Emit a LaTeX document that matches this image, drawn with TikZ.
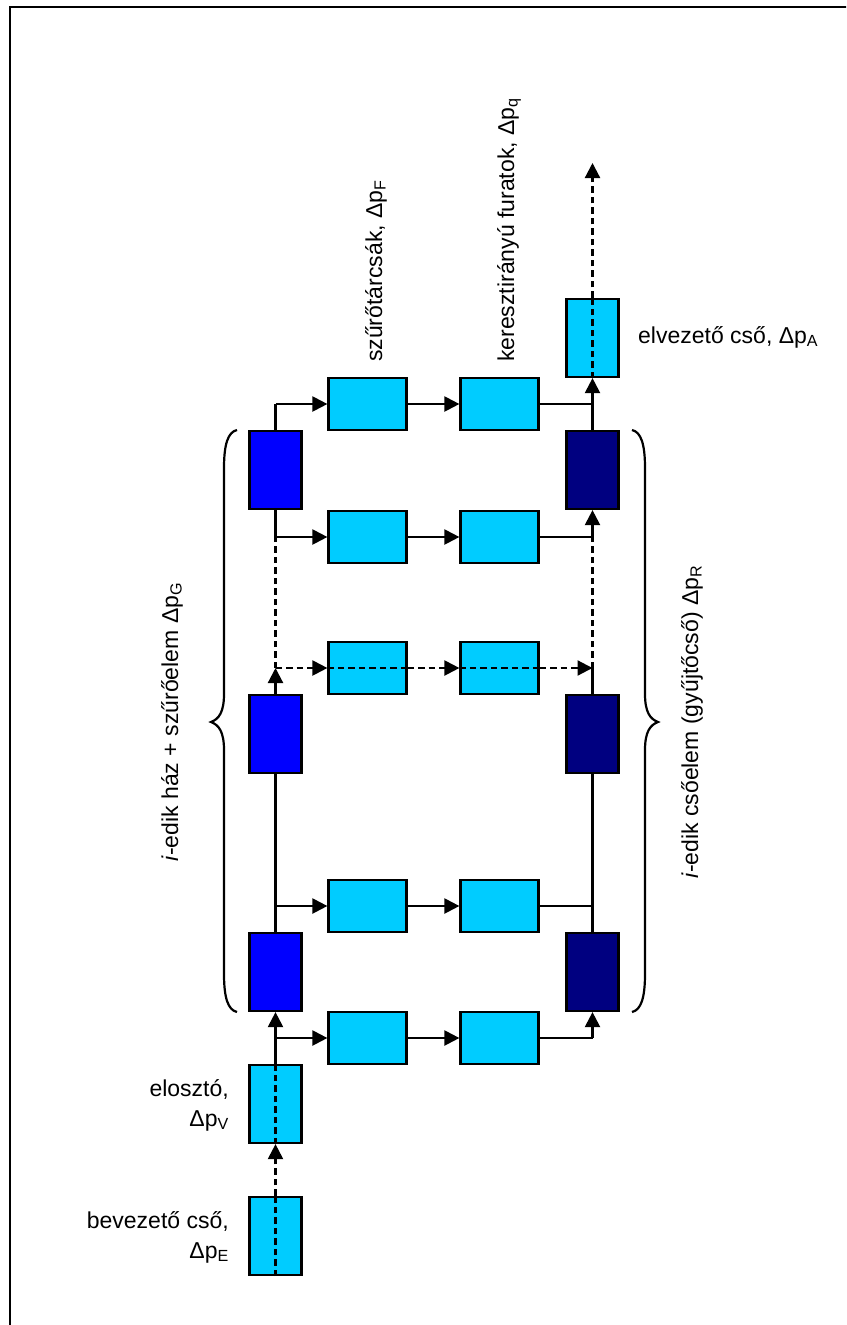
\documentclass[tikz,border=0pt]{standalone}
\usepackage{fontspec}
\setmainfont{Liberation Sans}
\usetikzlibrary{arrows.meta}
\definecolor{pipecyan}{HTML}{00CCFF}
\definecolor{housing}{HTML}{0000FF}
\definecolor{collector}{HTML}{000080}

\begin{document}
\begin{tikzpicture}[x=1pt,y=-1pt,
  font=\fontsize{23}{30}\selectfont,
  box/.style={draw=black, line width=2.2pt, inner sep=0pt},
  pipe/.style={box, fill=pipecyan, minimum width=52pt, minimum height=78pt},
  house/.style={pipe, fill=housing},
  coll/.style={pipe, fill=collector},
  disc/.style={box, fill=pipecyan, minimum width=78pt, minimum height=52pt},
  conn/.style={line width=2.2pt},
  flow/.style={conn, -{Triangle[length=15pt,width=15pt]}},
  dline/.style={conn, dash pattern=on 6.5pt off 4pt},
  dflow/.style={dline, -{Triangle[length=15pt,width=15pt]}},
  lbl/.style={inner sep=0pt},
  brace/.style={line width=2.2pt}
]
\useasboundingbox (0,0) rectangle (846,1325);

% page frame (only top and left edges fall inside the page)
\begin{scope}
  \clip (0,0) rectangle (846,1325);
  \draw[line width=2.2pt] (10,1340) -- (10,7) -- (860,7);
\end{scope}

% inlet, distributor and outlet pipes
\node[pipe] (be)  at (275.5,1236) {};
\node[pipe] (el)  at (275.5,1104) {};
\node[pipe] (out) at (592.5,338) {};

% housings with filter elements (left) and collector pipe elements (right)
\node[house] (h1) at (275.5,972) {};
\node[house] (h2) at (275.5,734) {};
\node[house] (h3) at (275.5,470) {};
\node[coll]  (r1) at (592.5,972) {};
\node[coll]  (r2) at (592.5,734) {};
\node[coll]  (r3) at (592.5,470) {};

% filter discs and cross bores, one pair per branch
\node[disc] (fA1) at (367.5,404)  {};
\node[disc] (fA2) at (499.5,404)  {};
\node[disc] (fB1) at (367.5,537)  {};
\node[disc] (fB2) at (499.5,537)  {};
\node[disc] (fM1) at (367.5,668)  {};
\node[disc] (fM2) at (499.5,668)  {};
\node[disc] (fC1) at (367.5,906)  {};
\node[disc] (fC2) at (499.5,906)  {};
\node[disc] (fD1) at (367.5,1038) {};
\node[disc] (fD2) at (499.5,1038) {};

% branch points
\coordinate (jA)  at (h3.north |- fA1);
\coordinate (jAr) at (r3.north |- fA2);
\coordinate (jB)  at (h3.south |- fB1);
\coordinate (jBr) at (r3.south |- fB2);
\coordinate (jM)  at (h2.north |- fM1);
\coordinate (jMr) at (r2.north |- fM2);
\coordinate (jC)  at (h1.north |- fC1);
\coordinate (jCr) at (r1.north |- fC2);
\coordinate (jD)  at (h1.south |- fD1);
\coordinate (jDr) at (r1.south |- fD2);
\coordinate (exit) at (592.5,163);

% inlet side
\draw[dline] (be.south) -- (be.north);
\draw[dflow] (be.north) -- (el.south);
\draw[dline] (el.south) -- (el.north);
\draw[conn]  (el.north) -- (jD);
\draw[flow]  (jD) -- (h1.south);

% bottom branch
\draw[flow] (jD) -- (fD1.west);
\draw[flow] (fD1.east) -- (fD2.west);
\draw[conn] (fD2.east) -- (jDr);
\draw[flow] (jDr) -- (r1.south);

% second branch
\draw[conn] (h1.north) -- (h2.south);
\draw[flow] (jC) -- (fC1.west);
\draw[flow] (fC1.east) -- (fC2.west);
\draw[conn] (fC2.east) -- (jCr);
\draw[conn] (r1.north) -- (r2.south);

% repeated (dashed) branch
\draw[flow]  (h2.north) -- (jM);
\draw[dflow] (jM) -- (fM1.west);
\draw[dline] (fM1.west) -- (fM1.east);
\draw[dflow] (fM1.east) -- (fM2.west);
\draw[dline] (fM2.west) -- (fM2.east);
\draw[dflow] (fM2.east) -- (jMr);
\draw[conn]  (r2.north) -- (jMr);
\draw[dline] (jM) -- (jB);
\draw[dline] (jMr) -- (jBr);

% branch below the last housing
\draw[conn] (jB) -- (h3.south);
\draw[flow] (jB) -- (fB1.west);
\draw[flow] (fB1.east) -- (fB2.west);
\draw[conn] (fB2.east) -- (jBr);
\draw[flow] (jBr) -- (r3.south);

% top branch and outlet
\draw[conn] (h3.north) -- (jA);
\draw[flow] (jA) -- (fA1.west);
\draw[flow] (fA1.east) -- (fA2.west);
\draw[conn] (fA2.east) -- (jAr);
\draw[flow] (r3.north) -- (out.south);
\draw[dline] (out.south) -- (out.north);
\draw[dflow] (out.north) -- (exit);

% curly braces
\draw[brace] (237,430) .. controls (228,432) and (224,444) .. (224,468) -- (224,694)
  .. controls (224,712) and (219,719) .. (211,722)
  .. controls (219,725) and (224,732) .. (224,750) -- (224,974)
  .. controls (224,998) and (228,1010) .. (237,1012);
\draw[brace] (632,430) .. controls (641,432) and (645,444) .. (645,468) -- (645,694)
  .. controls (645,712) and (650,719) .. (658,722)
  .. controls (650,725) and (645,732) .. (645,750) -- (645,974)
  .. controls (645,998) and (641,1010) .. (632,1012);

% labels
\node[lbl, rotate=90, anchor=base] (lhouse) at (178,722)
  {\textit{i}-edik ház + szűrőelem Δp\textsubscript{G}};
\node[lbl, rotate=90, anchor=base] (lcoll) at (698,722)
  {\textit{i}-edik csőelem (gyűjtőcső) Δp\textsubscript{R}};
\node[lbl, rotate=90, anchor=base west] (ldisc) at (382,362)
  {szűrőtárcsák, Δp\textsubscript{F}};
\node[lbl, rotate=90, anchor=base west] (lbore) at (514,362)
  {keresztirányú furatok, Δp\textsubscript{q}};
\node[lbl, anchor=base west] (lout) at (638,343)
  {elvezető cső, Δp\textsubscript{A}};
\node[lbl, align=right, anchor=east] (lin) at (229,1237)
  {bevezető cső,\\Δp\textsubscript{E}};
\node[lbl, align=right, anchor=east] (ldist) at (229,1105)
  {elosztó,\\Δp\textsubscript{V}};
\end{tikzpicture}
\end{document}
